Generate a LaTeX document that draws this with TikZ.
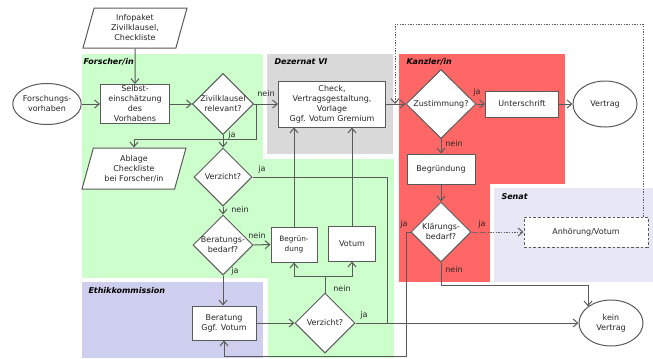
\documentclass[tikz,border=0pt]{standalone}
\usepackage{fontspec}
\setmainfont{DejaVu Sans}
\usetikzlibrary{shapes.geometric,arrows.meta}

\definecolor{strich}{RGB}{90,90,90}
\definecolor{forschergruen}{RGB}{204,255,204}
\definecolor{dezernatgrau}{RGB}{217,217,217}
\definecolor{kanzlerrot}{RGB}{255,102,102}
\definecolor{ethiklila}{RGB}{206,206,238}
\definecolor{senatlila}{RGB}{231,231,245}

\tikzset{every picture/.style={line width=0.75pt}}
\tikzset{
  txt/.style={font=\fontsize{6}{7.5}\selectfont, text=black!85, align=center},
  kasten/.style={txt, draw=strich, fill=white, rectangle, inner sep=0pt},
  raute/.style={txt, draw=strich, fill=white, diamond, aspect=1, inner sep=0pt},
  oval/.style={txt, draw=strich, fill=white, ellipse, inner sep=0pt},
  datei/.style={txt, draw=strich, fill=white, trapezium, trapezium left angle=67,
    trapezium right angle=113, trapezium stretches body, inner sep=0pt},
  bahn/.style={font=\fontsize{6}{7.5}\selectfont\bfseries\itshape, anchor=west, inner sep=0pt},
  marke/.style={txt, inner sep=0pt},
  pfeil/.style={draw=strich, -{Straight Barb[length=3.5pt,width=6pt]}},
  verbindung/.style={draw=strich},
  punktpfeil/.style={pfeil, dash pattern=on 1pt off 1pt},
}

\begin{document}
\begin{tikzpicture}[x=0.75pt,y=0.75pt,yscale=-1,xscale=1]
	\useasboundingbox (0,0) rectangle (653,358);

	%Lanes
	\fill[forschergruen] (82,54) rectangle (394,358);
	\fill[white] (263,50) rectangle (395,159);
	\fill[dezernatgrau] (267,54) rectangle (393,154);
	\fill[white] (76,278) rectangle (268,358);
	\fill[ethiklila] (82,282) rectangle (263,358);
	\fill[kanzlerrot] (399,54) rectangle (565,282);
	\fill[white] (490,184) rectangle (653,290);
	\fill[senatlila] (494,188) rectangle (653,282);

	% Lane labels
	\node[bahn] (bahnForscher) at (83,62) {Forscher/in};
	\node[bahn] (bahnDezernat) at (274,62) {Dezernat VI};
	\node[bahn] (bahnKanzler) at (406,62) {Kanzler/in};
	\node[bahn] (bahnSenat) at (501,197) {Senat};
	\node[bahn] (bahnEthik) at (88,291) {Ethikkommission};

	%Shapes
	\node[datei, minimum width=78pt, minimum height=30pt] (infopaket) at (135,28) {Infopaket\\Zivilklausel,\\Checkliste};
	\node[oval, minimum width=48pt, minimum height=30.75pt] (vorhaben) at (47,104) {Forschungs-\\vorhaben};
	\node[kasten, minimum width=51.75pt, minimum height=29.25pt] (selbst) at (135,104) {Selbst-\\einschätzung\\des\\Vorhabens};
	\node[raute, minimum width=45.75pt, minimum height=45pt] (zivil) at (223,104) {Zivilklausel\\relevant?};
	\node[kasten, minimum width=80.25pt, minimum height=34.5pt] (check) at (332,104) {Check,\\Vertragsgestaltung,\\Vorlage\\Ggf. Votum Gremium};
	\node[raute, minimum width=52.5pt, minimum height=51.75pt] (zustimmung) at (441,104) {Zustimmung?};
	\node[kasten, minimum width=54.75pt, minimum height=19.5pt] (unterschrift) at (522,104) {Unterschrift};
	\node[oval, minimum width=48pt, minimum height=34.5pt] (vertrag) at (605,104) {Vertrag};
	\node[datei, minimum width=78pt, minimum height=30.75pt] (ablage) at (134,168.5) {Ablage\\Checkliste\\bei Forscher/in};
	\node[raute, minimum width=43.5pt, minimum height=43.5pt] (verzichtA) at (223,177) {Verzicht?};
	\node[raute, minimum width=45pt, minimum height=45pt] (beratbedarf) at (223,245) {Beratungs-\\bedarf?};
	\node[kasten, minimum width=34.5pt, minimum height=26.25pt, font=\fontsize{5.5}{7}\selectfont] (begrDez) at (294,244.5) {Begrün-\\dung};
	\node[kasten, minimum width=35.25pt, minimum height=26.25pt] (votum) at (352,243.5) {Votum};
	\node[kasten, minimum width=48pt, minimum height=25.5pt] (beratung) at (224,323) {Beratung\\Ggf. Votum};
	\node[raute, minimum width=45pt, minimum height=45pt] (verzichtB) at (325,323) {Verzicht?};
	\node[kasten, minimum width=51pt, minimum height=22.5pt] (begrKanzler) at (441,169) {Begründung};
	\node[raute, minimum width=45pt, minimum height=45pt] (klaerung) at (441,232) {Klärungs-\\bedarf?};
	\node[kasten, minimum width=93pt, minimum height=22.5pt, dash pattern=on 2pt off 1.5pt] (anhoerung) at (586,232) {Anhörung/Votum};
	\node[oval, minimum width=48pt, minimum height=34.5pt] (keinvertrag) at (611,323) {kein\\Vertrag};

	%Bends
	\coordinate (zivilknick) at (256,139);
	\coordinate (jaknick) at (387,323);
	\coordinate (neinknick) at (325,276);
	\coordinate (rueckknick) at (406,356);
	\coordinate (senatoben) at (643,24);
	\coordinate (senatlinks) at (395,24);

	%Straight Lines
	\draw[pfeil] (infopaket.south) -- (selbst.north);
	\draw[pfeil] (vorhaben.east) -- (selbst.west);
	\draw[pfeil] (selbst.east) -- (zivil.west);
	\draw[pfeil] (zivil.east) -- (check.west);
	\draw[pfeil] (zivil.east) -| (zivilknick) -| (ablage.north);
	\draw[pfeil] (zivil.south) -- (verzichtA.north);
	\draw[verbindung] (verzichtA.east) -| (jaknick);
	\draw[pfeil] (verzichtA.south) -- (beratbedarf.north);
	\draw[pfeil] (beratbedarf.east) -- (begrDez.west);
	\draw[pfeil] (beratbedarf.south) -- (beratbedarf.south |- beratung.north);
	\draw[pfeil] (begrDez.north) -- (begrDez.north |- check.south);
	\draw[pfeil] (votum.north) -- (votum.north |- check.south);
	\draw[pfeil] (beratung.east) -- (verzichtB.west);
	\draw[pfeil] (verzichtB.north) -- (neinknick) -| (begrDez.south);
	\draw[pfeil] (neinknick) -| (votum.south);
	\draw[pfeil] (verzichtB.east) -- (keinvertrag.west);
	\draw[pfeil] (check.east) -- (zustimmung.west);
	\draw[pfeil] (zustimmung.east) -- (unterschrift.west);
	\draw[pfeil] (unterschrift.east) -- (vertrag.west);
	\draw[pfeil] (zustimmung.south) -- (begrKanzler.north);
	\draw[pfeil] (begrKanzler.south) -- (klaerung.north);
	\draw[punktpfeil] (klaerung.east) -- (anhoerung.west);
	\draw[pfeil] (klaerung.south) -- ++(0,23) -| (keinvertrag.north west);
	\draw[pfeil] (klaerung.west) -| (rueckknick) -| (beratung.south);
	\draw[punktpfeil] (senatoben |- anhoerung.north) -- (senatoben) -- (senatlinks) -- (senatlinks |- check.east);

	% Text Node
	\node[marke] (neinZivil) at (266,94) {nein};
	\node[marke] (jaZivil) at (232,135) {ja};
	\node[marke] (jaVerzichtA) at (262,169) {ja};
	\node[marke] (neinVerzichtA) at (240,210) {nein};
	\node[marke] (neinBedarf) at (257,236) {nein};
	\node[marke] (jaBedarf) at (235,271) {ja};
	\node[marke] (neinVerzichtB) at (342,289) {nein};
	\node[marke] (jaVerzichtB) at (364,315) {ja};
	\node[marke] (jaZustimmung) at (477,92) {ja};
	\node[marke] (neinZustimmung) at (454,144) {nein};
	\node[marke] (jaKlaerungL) at (404,224) {ja};
	\node[marke] (jaKlaerungR) at (482,224) {ja};
	\node[marke] (neinKlaerung) at (454,270) {nein};

\end{tikzpicture}
\end{document}
